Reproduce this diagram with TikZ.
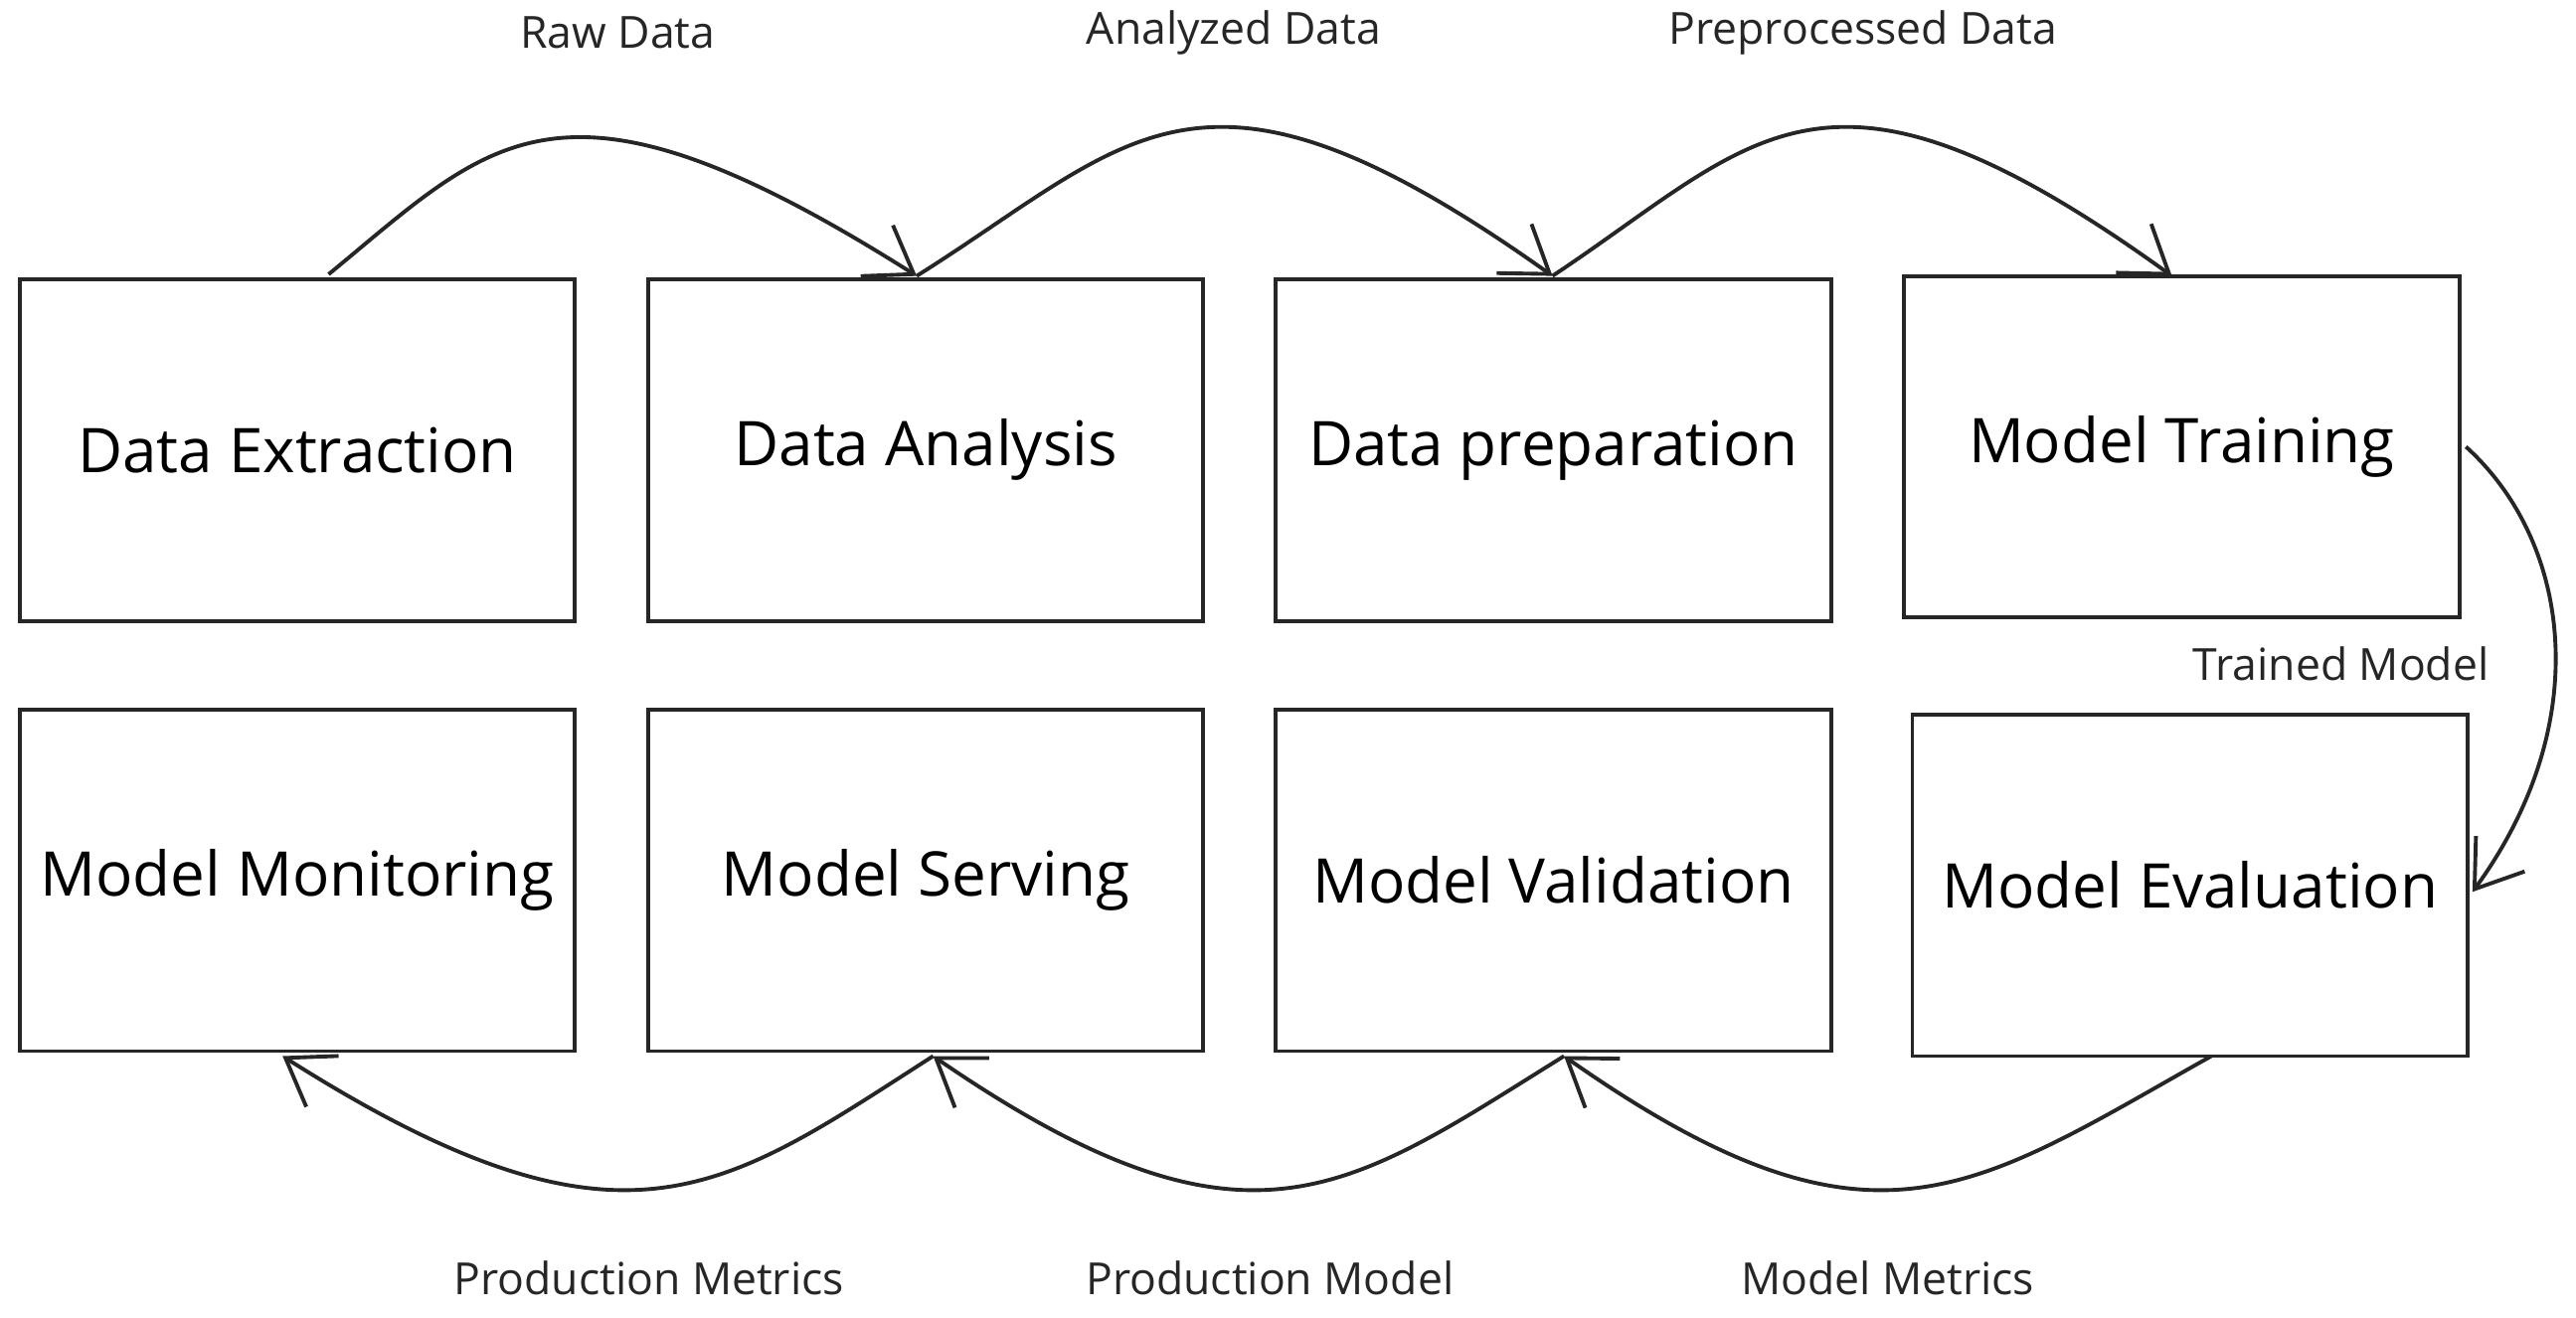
\documentclass[tikz,border=0pt]{standalone}
\usepackage{fontspec}
\setmainfont{Open Sans}
\usetikzlibrary{arrows.meta}
\begin{document}
\begin{tikzpicture}[x=0.3mm,y=-0.3mm,
  box/.style={draw=black!85,line width=2pt,minimum width=101.4mm,minimum height=62.4mm,inner sep=0pt,font=\fontsize{32}{38}\selectfont},
  lab/.style={font=\fontsize{23}{27}\selectfont,text=black!85},
  arr/.style={draw=black!85,line width=2pt,-{Straight Barb[length=8mm,width=11mm,line width=2pt]}}]
\useasboundingbox (0,0) rectangle (1568,802);
\node[box] (b1) at (181,274) {Data Extraction};
\node[box] (b2) at (563.5,274) {Data Analysis};
\node[box] (b3) at (945.5,274) {Data preparation};
\node[box] (b4) at (1328,272) {Model Training};
\node[box] (b5) at (181,536) {Model Monitoring};
\node[box] (b6) at (563.5,536) {Model Serving};
\node[box] (b7) at (945.5,536) {Model Validation};
\node[box] (b8) at (1333,539) {Model Evaluation};
\coordinate (s1) at (200,167);
\coordinate (t2) at (558,168);
\coordinate (t3) at (945,168);
\coordinate (t4) at (1322,168);
\coordinate (s4) at (1501,272);
\coordinate (t8) at (1505,543);
\coordinate (s8) at (1346,643);
\coordinate (t7) at (952,643);
\coordinate (t6) at (568,643);
\coordinate (t5) at (172,643);
\draw[arr] (s1) .. controls (300,85) and (340,30) .. (t2);
\draw[arr] (t2) .. controls (690,85) and (730,15) .. (t3);
\draw[arr] (t3) .. controls (1070,85) and (1110,15) .. (t4);
\draw[arr] (s4) .. controls (1565,330) and (1580,440) .. (t8);
\draw[arr] (s8) .. controls (1200,725) and (1140,775) .. (t7);
\draw[arr] (t7) .. controls (820,725) and (760,775) .. (t6);
\draw[arr] (t6) .. controls (440,725) and (380,775) .. (t5);
\node[lab] (l1) at (376,20) {Raw Data};
\node[lab] (l2) at (751,20) {Analyzed Data};
\node[lab] (l3) at (1134,20) {Preprocessed Data};
\node[lab] (l4) at (1425,404) {Trained Model};
\node[lab] (l5) at (1149,778) {Model Metrics};
\node[lab] (l6) at (773,778) {Production Model};
\node[lab] (l7) at (395,778) {Production Metrics};
\end{tikzpicture}
\end{document}
